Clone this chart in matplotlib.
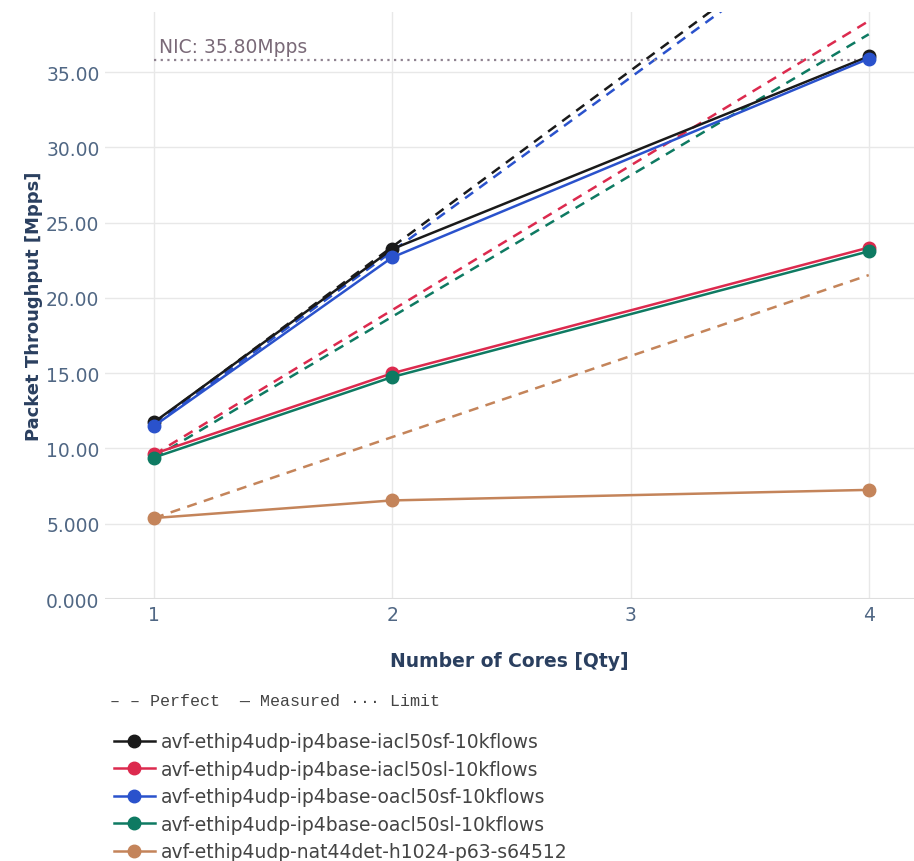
import matplotlib
matplotlib.use("Agg")
from matplotlib import pyplot as plt

cores = [1, 2, 4]
perfect_cores = [1, 2, 3, 4]

test_names = [
    "avf-ethip4udp-ip4base-iacl50sf-10kflows",
    "avf-ethip4udp-ip4base-iacl50sl-10kflows",
    "avf-ethip4udp-ip4base-oacl50sf-10kflows",
    "avf-ethip4udp-ip4base-oacl50sl-10kflows",
    "avf-ethip4udp-nat44det-h1024-p63-s64512",
]
colors = ["#1a1a1a", "#dc2a4e", "#2a52cc", "#0e7a62", "#c4845a"]

measured = [
    [11.75, 23.25, 36.05],
    [9.65, 15.0, 23.35],
    [11.5, 22.7, 35.9],
    [9.4, 14.75, 23.1],
    [5.38, 6.55, 7.25],
]
perfect = [
    [11.7, 23.4, 35.1, 46.8],
    [9.6, 19.2, 28.8, 38.4],
    [11.55, 23.1, 34.65, 46.2],
    [9.38, 18.76, 28.14, 37.52],
    [5.38, 10.76, 16.14, 21.52],
]

nic_limit = 35.8
y_ticks = [0, 5, 10, 15, 20, 25, 30, 35]
y_tick_labels = ["0.000", "5.000", "10.00", "15.00", "20.00", "25.00", "30.00", "35.00"]
x_ticks = [1, 2, 3, 4]

tick_color = "#506784"
title_color = "#2a3f5f"

fig = plt.figure(figsize=(9.14, 8.62), dpi=100)
ax = fig.add_axes([105 / 914, 262 / 862, 809 / 914, 587 / 862])

for p, c in zip(perfect, colors):
    ax.plot(perfect_cores, p, color=c, linestyle=(0, (4, 3)), linewidth=1.8, zorder=2)

ax.plot([1, 4], [nic_limit, nic_limit], color="#8f8290", linestyle=(0, (1, 2)),
        linewidth=1.6, zorder=2)
ax.text(1.02, nic_limit + 0.3, f"NIC: {nic_limit:.2f}Mpps", color="#7a6a78",
        fontsize=13.5, ha="left", va="bottom")

handles = []
for name, m, c in zip(test_names, measured, colors):
    h, = ax.plot(cores, m, color=c, linewidth=1.8, marker="o", markersize=9,
                 label=name, zorder=3)
    handles.append(h)

ax.set_xlim(0.794, 4.19)
ax.set_ylim(0, 39)
ax.set_xticks(x_ticks)
ax.set_yticks(y_ticks)
ax.set_yticklabels(y_tick_labels)
ax.tick_params(colors=tick_color, labelsize=13.5, length=0, pad=4)
ax.grid(True, color="#e8e8e8", linewidth=1)
ax.axhline(0, color="#dedede", linewidth=1.5, zorder=1)
ax.set_axisbelow(True)
for s in ax.spines.values():
    s.set_visible(False)

ax.set_xlabel("Number of Cores [Qty]", fontsize=13.5, fontweight="bold",
              color=title_color, labelpad=20)
ax.set_ylabel("Packet Throughput [Mpps]", fontsize=13, fontweight="bold",
              color=title_color, labelpad=2)

fig.text(110 / 914, 1 - 702 / 862, "– – Perfect  — Measured ··· Limit",
         family="Liberation Mono", fontsize=12, color="#444444", va="center")

leg = fig.legend(handles=handles, loc="upper left",
                 bbox_to_anchor=(106 / 914, 1 - 726 / 862), frameon=False,
                 fontsize=13.5, handlelength=2.2, handletextpad=0.35,
                 labelspacing=0.45, borderaxespad=0)
for t in leg.get_texts():
    t.set_color("#444444")

fig.savefig("out.png", dpi=100)
